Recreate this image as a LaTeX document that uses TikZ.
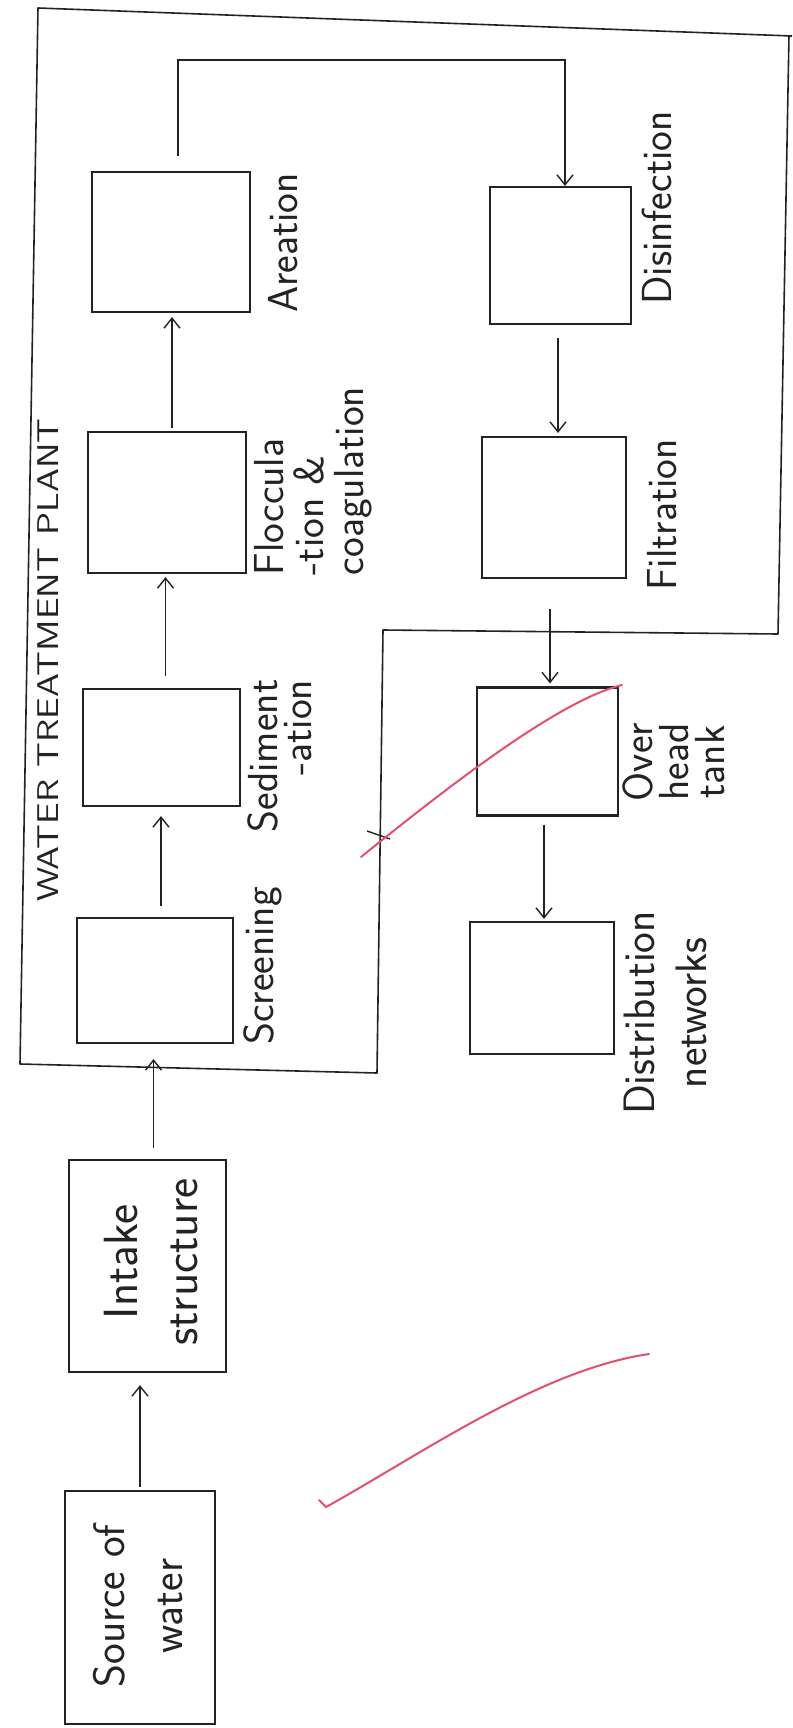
\documentclass[tikz,border=0pt]{standalone}
\usepackage{fontspec}
\usetikzlibrary{arrows.meta}
\definecolor{redpen}{RGB}{226,80,110}
\definecolor{ink}{RGB}{35,35,35}
\begin{document}
\begin{tikzpicture}[x=0.5pt,y=-0.5pt,
  box/.style={draw=ink, line width=1.1pt, inner sep=0pt},
  conn/.style={draw=ink, line width=0.7pt, -{Straight Barb[length=5pt,width=8pt]}},
  frameline/.style={draw=ink, line width=0.8pt, line join=round},
  lbl/.style={rotate=90, inner sep=0pt, text=ink, font=\fontsize{21}{19}\selectfont\sffamily},
  redpenline/.style={draw=redpen, line width=1pt, line cap=round}]
\path[use as bounding box, fill=white] (0,0) rectangle (792,1728);

% plant frame
\draw[frameline] (792,36) -- (38,8) -- (20,1064) -- (377,1073) -- (383,630) -- (778,634) -- (789,35);
\coordinate (tickA) at (367,831);
\coordinate (tickB) at (390,839);
\draw[ink, line width=0.7pt] (tickA) -- (tickB);

% boxes
\node[box, minimum width=79pt, minimum height=70pt]   (aer) at (171,242) {};
\node[box, minimum width=70.5pt, minimum height=68.5pt] (dis) at (560.5,255.5) {};
\node[box, minimum width=79pt, minimum height=70.5pt] (flo) at (167,502.5) {};
\node[box, minimum width=72pt, minimum height=70.5pt] (fil) at (554,507.5) {};
\node[box, minimum width=78.5pt, minimum height=58.5pt] (sed) at (161.5,747.5) {};
\node[box, minimum width=70.5pt, minimum height=64pt] (ovh) at (547.5,751.5) {};
\node[box, minimum width=78pt, minimum height=62.5pt] (scr) at (155,980.5) {};
\node[box, minimum width=72pt, minimum height=66pt] (dst) at (542,988) {};
\node[box, minimum width=78.5pt, minimum height=106pt] (itk) at (147.5,1266) {};
\node[box, minimum width=75pt, minimum height=116.5pt] (src) at (140,1607.5) {};

% connectors
\draw[conn, shorten <=1.5pt, shorten >=6pt] (src.north) -- (src.north |- itk.south);
\draw[conn, shorten <=5.5pt, shorten >=7.5pt] ([xshift=3pt]itk.north) -- ([xshift=3pt]itk.north |- scr.south);
\draw[conn, shorten <=5.5pt, shorten >=4.5pt] ([xshift=3pt]scr.north) -- ([xshift=3pt]scr.north |- sed.south);
\draw[conn, shorten <=6pt, shorten >=1.5pt] ([xshift=2pt]sed.north) -- ([xshift=2pt]sed.north |- flo.south);
\draw[conn, shorten <=1.5pt, shorten >=2pt] ([xshift=2.5pt]flo.north) -- ([xshift=2.5pt]flo.north |- aer.south);
\coordinate (loopR) at (565,60);
\draw[conn, shorten <=7.5pt] ([xshift=3.5pt]aer.north) |- (loopR) -- (loopR |- dis.north);
\draw[conn, shorten <=6.5pt, shorten >=1.5pt] ([xshift=-1.25pt]dis.south) -- ([xshift=-1.25pt]dis.south |- fil.north);
\draw[conn, shorten <=15pt, shorten >=1.5pt] ([xshift=-2pt]fil.south) -- ([xshift=-2pt]fil.south |- ovh.north);
\draw[conn, shorten <=4pt, shorten >=1pt] ([xshift=-1.75pt]ovh.south) -- ([xshift=-1.75pt]ovh.south |- dst.north);

% labels
\node[lbl, xscale=1.24, font=\fontsize{15}{17}\selectfont\sffamily\addfontfeature{LetterSpace=31}] (wtpL) at (48,660) {WATER TREATMENT PLANT};
\node[lbl] (aerL) at (283,243) {Areation};
\node[lbl] (disL) at (657,208) {Disinfection};
\node[lbl, align=left, font=\fontsize{21}{20}\selectfont\sffamily] (floL) at (313,481) {Floccula\\-tion \&\\coagulation};
\node[lbl] (filL) at (662,515) {Filtration};
\node[lbl, align=right, font=\fontsize{21}{17}\selectfont\sffamily] (sedL) at (280,756) {Sediment\\-ation};
\node[lbl] (scrL) at (263,966) {Screening};
\node[lbl, align=center, font=\fontsize{21}{18}\selectfont\sffamily] (ovhL) at (674,762) {Over\\head\\tank};
\node[lbl, align=center, font=\fontsize{22}{26}\selectfont\sffamily] (dstL) at (665,1013) {Distribution\\networks};
\node[lbl, align=center, font=\fontsize{24}{30}\selectfont\sffamily] (itkL) at (151,1262) {Intake\\structure};
\node[lbl, align=center, font=\fontsize{22}{29}\selectfont\sffamily] (srcL) at (138,1606) {Source of\\water};

% red pen marks
\coordinate (slashA) at (361,857);
\coordinate (slashB) at (622,685);
\draw[redpenline] (slashA) .. controls (450,785) and (560,700) .. (slashB);
\coordinate (tickS) at (319,1500);
\coordinate (tickM) at (326,1507);
\coordinate (tickE) at (649,1354);
\draw[redpenline] (tickS) -- (tickM) .. controls (420,1455) and (540,1370) .. (tickE);
\end{tikzpicture}
\end{document}
